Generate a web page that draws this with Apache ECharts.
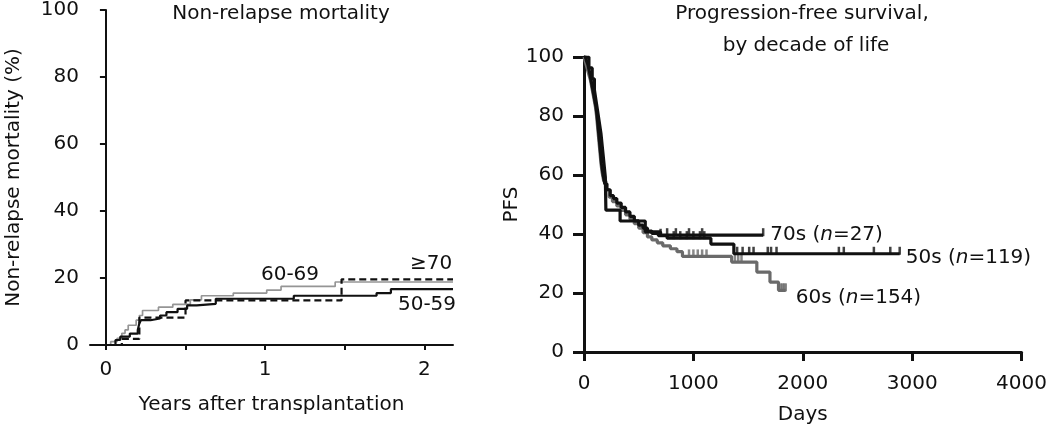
<!DOCTYPE html>
<html>
<head>
<meta charset="utf-8">
<script src="https://cdn.jsdelivr.net/npm/echarts@6/dist/echarts.min.js"></script>
<style>
  html, body { margin: 0; padding: 0; background: #fff; }
  #chart { width: 1050px; height: 431px; }
</style>
</head>
<body>
<div id="chart"></div>
<script>
// ---------------- DATA ----------------
// Left panel: non-relapse mortality (%), x = years after transplantation
const nrmXTicks = [0, 0.5, 1, 1.5, 2];
const nrmXLabels = [0, 1, 2];
const nrmYTicks = [0, 20, 40, 60, 80, 100];
const nrm6069 = [[0,0],[0.03,1],[0.07,2],[0.1,3.5],[0.12,4.5],[0.14,5.9],[0.19,7.4],[0.21,8.8],[0.23,10.3],[0.33,11.3],[0.42,12.1],[0.53,13.5],[0.6,14.7],[0.8,15.5],[1.01,16.4],[1.1,17.5],[1.44,18.8],[2.18,18.8]];
const nrm5059 = [[0,0],[0.06,1.5],[0.09,2.5],[0.15,3.4],[0.2,4.5],[0.21,6.5],[0.22,7.4],[0.28,7.9],[0.34,8.8],[0.38,9.8],[0.45,10.8],[0.51,11.8],[0.57,12.3],[0.69,13.8],[1.18,14.7],[1.7,15.5],[1.79,16.7],[2.18,16.7]];
const nrm70 = [[0,0],[0.1,1.8],[0.21,8.2],[0.5,13.3],[1.48,19.6],[2.18,19.6]];
const nrmGroupLabels = ['60-69', '\u226570', '50-59'];

// Right panel: progression-free survival (%), x = days
const pfsXTicks = [0, 1000, 2000, 3000, 4000];
const pfsYTicks = [0, 20, 40, 60, 80, 100];
const pfs60s = [[0,100],[15,98],[30,96],[45,94],[60,92],[75,89],[90,86],[105,83],[115,80],[125,76],[135,72],[145,68],[155,64],[165,61],[180,58],[200,55],[230,52.5],[260,51],[300,49.5],[340,48],[380,46.5],[420,45],[460,43.5],[500,42],[540,40.5],[580,39],[620,38],[670,37],[720,36],[790,35],[850,34],[900,32.4],[1350,30.5],[1580,27.1],[1700,23.7],[1778,20.9],[1844,20.9]];
const pfs50s = [[0,100],[20,99],[35,97.5],[50,95],[65,92],[80,89],[95,86],[110,83],[120,80],[130,76],[140,72],[150,68],[160,64],[175,60],[190,57],[210,55],[240,53],[270,52],[300,50.5],[340,49],[380,47.5],[420,46],[460,44.5],[500,43],[540,42],[580,41],[620,40.2],[680,39.4],[760,38.6],[1160,36.6],[1370,33.3],[2886,33.3]];
const pfs70s = [[0,100],[45,96.3],[75,92.6],[95,88.9],[110,85.2],[125,81.5],[140,77.8],[155,74.1],[165,70.4],[175,66.7],[185,63],[195,59.3],[200,48.1],[330,44.4],[560,40.7],[700,39.6],[1638,39.6]];
const censor60s = [960, 1000, 1040, 1080, 1120, 1380, 1410, 1440, 1800, 1815, 1830, 1844];
const censor50s = [700, 820, 880, 940, 1000, 1060, 1100, 1400, 1450, 1510, 1550, 1680, 1710, 1760, 2330, 2375, 2650, 2800, 2886];
const censor70s = [760, 840, 960, 1080, 1638];
const pfsGroups = ['70s', '50s', '60s'];
const pfsN = [27, 119, 154];

// ---------------- HELPERS ----------------
function stepValueAt(curve, t) {
  let v = curve[0][1];
  for (const p of curve) { if (p[0] <= t) v = p[1]; else break; }
  return v;
}
function censorPoints(curve, times) {
  return times.map(t => [t, stepValueAt(curve, t)]);
}

const FONT = 'DejaVu Sans';
const FS = 20;
const TXT = '#111111';
const BLACK = '#111111';
const GRAY_L = '#959595';
const GRAY_R = '#6a6a6a';
const plain = v => String(v);

const chart = echarts.init(document.getElementById('chart'), null, { renderer: 'canvas' });

function pfsLabel(i) {
  return '{a|' + pfsGroups[i] + ' (}{i|n}{a|=' + pfsN[i] + ')}';
}
const richTxt = {
  a: { fontFamily: FONT, fontSize: FS, color: TXT },
  i: { fontFamily: FONT, fontSize: FS, color: TXT, fontStyle: 'italic' }
};
const txtStyle = { fontFamily: FONT, fontSize: FS, fill: TXT, textAlign: 'center', textVerticalAlign: 'middle' };

const option = {
  backgroundColor: '#ffffff',
  animation: false,
  textStyle: { fontFamily: FONT },
  grid: [
    { left: 90, right: 597, top: 8, bottom: 86, containLabel: false },
    { left: 584, right: 25, top: 57, bottom: 79, containLabel: false }
  ],
  xAxis: [
    {
      gridIndex: 0, type: 'value', min: -0.1, max: 2.18,
      name: 'Years after transplantation', nameLocation: 'middle', nameGap: 50,
      nameTextStyle: { fontFamily: FONT, fontSize: FS, color: TXT },
      axisLine: { show: true, onZero: false, lineStyle: { color: BLACK, width: 2 } },
      axisTick: { show: true, customValues: nrmXTicks, length: 5, lineStyle: { color: BLACK, width: 2 } },
      axisLabel: { customValues: nrmXLabels, formatter: plain, fontFamily: FONT, fontSize: FS, color: TXT, margin: 15 },
      splitLine: { show: false }
    },
    {
      gridIndex: 1, type: 'value', min: 0, max: 4000,
      name: 'Days', nameLocation: 'middle', nameGap: 53,
      nameTextStyle: { fontFamily: FONT, fontSize: FS, color: TXT },
      axisLine: { show: true, onZero: false, lineStyle: { color: BLACK, width: 3 } },
      axisTick: { show: true, customValues: pfsXTicks, length: 9, lineStyle: { color: BLACK, width: 3 } },
      axisLabel: { customValues: pfsXTicks, formatter: plain, fontFamily: FONT, fontSize: FS, color: TXT, margin: 22 },
      splitLine: { show: false }
    }
  ],
  yAxis: [
    {
      gridIndex: 0, type: 'value', min: 0, max: 100, interval: 20,
      name: 'Non-relapse mortality (%)', nameLocation: 'middle', nameGap: 66,
      nameTextStyle: { fontFamily: FONT, fontSize: FS, color: TXT },
      axisLine: { show: true, lineStyle: { color: BLACK, width: 2 } },
      axisTick: { show: true, customValues: nrmYTicks, length: 6, lineStyle: { color: BLACK, width: 2 } },
      axisLabel: { customValues: nrmYTicks, formatter: plain, fontFamily: FONT, fontSize: FS, color: TXT, margin: 11 },
      splitLine: { show: false }
    },
    {
      gridIndex: 1, type: 'value', min: 0, max: 100, interval: 20,
      name: 'PFS', nameLocation: 'middle', nameGap: 62,
      nameTextStyle: { fontFamily: FONT, fontSize: FS, color: TXT },
      axisLine: { show: true, lineStyle: { color: BLACK, width: 3 } },
      axisTick: { show: true, customValues: pfsYTicks, length: 11, lineStyle: { color: BLACK, width: 3 } },
      axisLabel: { customValues: pfsYTicks, formatter: plain, fontFamily: FONT, fontSize: FS, color: TXT, margin: 20 },
      splitLine: { show: false }
    }
  ],
  graphic: [
    { type: 'text', x: 281, y: 14, style: Object.assign({ text: 'Non-relapse mortality' }, txtStyle) },
    { type: 'text', x: 802, y: 14, style: Object.assign({ text: 'Progression-free survival,' }, txtStyle) },
    { type: 'text', x: 806, y: 46, style: Object.assign({ text: 'by decade of life' }, txtStyle) },
    { type: 'text', x: 290, y: 275, style: Object.assign({ text: nrmGroupLabels[0] }, txtStyle) },
    { type: 'text', x: 431, y: 264, style: Object.assign({ text: nrmGroupLabels[1] }, txtStyle) },
    { type: 'text', x: 427, y: 305, style: Object.assign({ text: nrmGroupLabels[2] }, txtStyle) }
  ],
  series: [
    { type: 'line', xAxisIndex: 0, yAxisIndex: 0, step: 'end', data: nrm6069, symbol: 'none',
      lineStyle: { color: GRAY_L, width: 1.7 }, z: 2 },
    { type: 'line', xAxisIndex: 0, yAxisIndex: 0, step: 'end', data: nrm5059, symbol: 'none',
      lineStyle: { color: BLACK, width: 2.2 }, z: 3 },
    { type: 'line', xAxisIndex: 0, yAxisIndex: 0, step: 'end', data: nrm70, symbol: 'none',
      lineStyle: { color: BLACK, width: 2.2, type: [7, 4] }, z: 4 },

    { type: 'line', xAxisIndex: 1, yAxisIndex: 1, step: 'end', data: pfs60s, symbol: 'none',
      lineStyle: { color: GRAY_R, width: 3.2 }, z: 2,
      endLabel: { show: true, formatter: pfsLabel(2), rich: richTxt, distance: 10, offset: [0, 7] } },
    { type: 'scatter', xAxisIndex: 1, yAxisIndex: 1, data: censorPoints(pfs60s, censor60s),
      symbol: 'rect', symbolSize: [2.5, 8], symbolOffset: [0, -3], itemStyle: { color: GRAY_R }, z: 2 },
    { type: 'line', xAxisIndex: 1, yAxisIndex: 1, step: 'end', data: pfs50s, symbol: 'none',
      lineStyle: { color: BLACK, width: 3.2 }, z: 3,
      endLabel: { show: true, formatter: pfsLabel(1), rich: richTxt, distance: 6, offset: [0, 4] } },
    { type: 'scatter', xAxisIndex: 1, yAxisIndex: 1, data: censorPoints(pfs50s, censor50s),
      symbol: 'rect', symbolSize: [2.5, 8], symbolOffset: [0, -3], itemStyle: { color: BLACK }, z: 3 },
    { type: 'line', xAxisIndex: 1, yAxisIndex: 1, step: 'end', data: pfs70s, symbol: 'none',
      lineStyle: { color: BLACK, width: 3.2 }, z: 4,
      endLabel: { show: true, formatter: pfsLabel(0), rich: richTxt, distance: 7, offset: [0, 0] } },
    { type: 'scatter', xAxisIndex: 1, yAxisIndex: 1, data: censorPoints(pfs70s, censor70s),
      symbol: 'rect', symbolSize: [2.5, 8], symbolOffset: [0, -3], itemStyle: { color: BLACK }, z: 4 }
  ]
};
chart.setOption(option);
</script>
</body>
</html>
